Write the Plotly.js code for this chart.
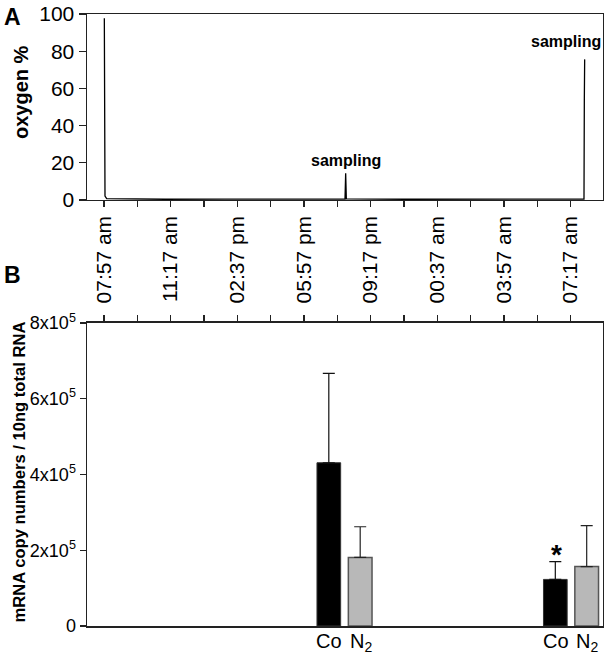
<!DOCTYPE html>
<html><head><meta charset="utf-8">
<script src="https://cdn.plot.ly/plotly-3.0.1.min.js"></script>
<style>html,body{margin:0;padding:0;background:#fff}#chart{width:604px;height:654px}</style>
</head><body><div id="chart"></div>
<script>
// ---- Panel A: oxygen trace ----
const oxyTime = [
  '2011-03-10 07:58','2011-03-10 07:59','2011-03-10 08:00','2011-03-10 08:05',
  '2011-03-10 09:00','2011-03-10 11:00','2011-03-10 14:00','2011-03-10 17:00',
  '2011-03-10 20:00','2011-03-10 20:02','2011-03-10 20:04','2011-03-10 23:00',
  '2011-03-11 02:00','2011-03-11 05:00','2011-03-11 07:57','2011-03-11 07:58','2011-03-11 07:59'
];
const oxyPct = [97.7, 60, 2.1, 0.7, 0.5, 0.4, 0.5, 0.4, 0.5, 14.3, 0.6, 0.4, 0.5, 0.4, 0.5, 54, 75.6];

// ---- time axis labels ----
const timeTickStart = '2011-03-10 07:57';
const timeTickLabels = ['07:57 am','11:17 am','02:37 pm','05:57 pm','09:17 pm','00:37 am','03:57 am','07:17 am'];
const timeRange = ['2011-03-10 07:06','2011-03-11 08:54'];

// ---- Panel B: mRNA copy numbers ----
const groupTimes = ['2011-03-10 19:58:30','2011-03-11 07:18'];
const coVals = [431000, 123000];
const coErr  = [236000, 47000];
const n2Vals = [181000, 157000];
const n2Err  = [81000, 108000];
const yBTicks = [0, 200000, 400000, 600000, 800000];
const yBTickText = ['0','2x10<sup>5</sup>','4x10<sup>5</sup>','6x10<sup>5</sup>','8x10<sup>5</sup>'];

// tick positions: labelled every 200 min, minor (unlabelled) ticks in between
const t0 = new Date(timeTickStart.replace(' ','T')+':00Z').getTime();
const fmt = ms => new Date(ms).toISOString().replace('T',' ').slice(0,19);
const tickVals = timeTickLabels.map((_, i) => fmt(t0 + i*200*60000));
const minorVals = timeTickLabels.slice(1).map((_, i) => fmt(t0 + (i*200+100)*60000));

const FONT = 'Liberation Sans, Arial, Helvetica, sans-serif';
const AX = '#222';

const traces = [
  {x: oxyTime, y: oxyPct, xaxis:'x', yaxis:'y', type:'scatter', mode:'lines',
   line:{color:'#000', width:1.3}, showlegend:false, hoverinfo:'skip'},
  {x: groupTimes, y: coVals, xaxis:'x2', yaxis:'y2', type:'bar', name:'Co',
   marker:{color:'#000', line:{color:'#333', width:1}},
   error_y:{type:'data', symmetric:false, array: coErr, arrayminus:[0,0], color:'#111', thickness:1.2, width:6},
   showlegend:false},
  {x: groupTimes, y: n2Vals, xaxis:'x2', yaxis:'y2', type:'bar', name:'N2',
   marker:{color:'#b8b8b8', line:{color:'#555', width:1.5}},
   error_y:{type:'data', symmetric:false, array: n2Err, arrayminus:[0,0], color:'#222', thickness:1.2, width:6},
   showlegend:false}
];

const annotations = [
  {text:'<b>A</b>', xref:'paper', yref:'paper', x:-0.165, y:1.02, xanchor:'left', yanchor:'top', showarrow:false, font:{family:FONT, size:23, color:'#000'}},
  {text:'<b>B</b>', xref:'paper', yref:'paper', x:-0.165, y:0.598, xanchor:'left', yanchor:'top', showarrow:false, font:{family:FONT, size:23, color:'#000'}},
  {text:'<b>oxygen %</b>', xref:'paper', yref:'paper', x:-0.1163, xshift:-6, y:0.8725, xanchor:'center', yanchor:'middle', textangle:-90, showarrow:false, font:{family:FONT, size:20, color:'#000'}},
  {text:'<b>mRNA copy numbers / 10ng total RNA</b>', xref:'paper', yref:'paper', x:-0.1163, xshift:-8, y:0.2525, xanchor:'center', yanchor:'middle', textangle:-90, showarrow:false, font:{family:FONT, size:16.6, color:'#000'}},
  {text:'<b>sampling</b>', xref:'x', yref:'y', x:'2011-03-10 20:02', y:21, xanchor:'center', yanchor:'middle', showarrow:false, font:{family:FONT, size:16, color:'#000'}},
  {text:'<b>sampling</b>', xref:'paper', yref:'y', x:1, y:85, xanchor:'right', yanchor:'middle', showarrow:false, font:{family:FONT, size:16, color:'#000'}},
  {text:'<b>*</b>', xref:'x2', yref:'y2', x:groupTimes[1], xshift:-15, y:coVals[1]+coErr[1], yanchor:'bottom', yshift:-10, showarrow:false, font:{family:FONT, size:28, color:'#000'}}
];
groupTimes.forEach(g => {
  annotations.push({text:'Co', xref:'x2', yref:'y2', x:g, xshift:-15.5, y:0, yanchor:'top', yshift:-2, showarrow:false, font:{family:FONT, size:20, color:'#000'}});
  annotations.push({text:'N<sub>2</sub>', xref:'x2', yref:'y2', x:g, xshift:16, y:0, yanchor:'top', yshift:-2, showarrow:false, font:{family:FONT, size:20, color:'#000'}});
});

const tickStyle = {ticks:'outside', ticklen:6, tickwidth:1.2, tickcolor:AX};

const layout = {
  width:604, height:654,
  margin:{l:87, r:1, t:14, b:28},
  paper_bgcolor:'#fff', plot_bgcolor:'#fff',
  font:{family:FONT, size:21, color:'#000'},
  barmode:'group', bargap:0.723, bargroupgap:0.245,
  xaxis:Object.assign({type:'date', range:timeRange, domain:[0,1], anchor:'y',
    tickmode:'array', tickvals:tickVals, ticktext:timeTickLabels, tickangle:-90,
    minor:Object.assign({tickmode:'array', tickvals:minorVals, showgrid:false}, tickStyle),
    showline:true, linecolor:AX, linewidth:1.5, mirror:true, showgrid:false, zeroline:false,
    tickfont:{family:FONT, size:21, color:'#000'}}, tickStyle),
  yaxis:Object.assign({domain:[0.6961,1], anchor:'x', range:[0,100], tickvals:[0,20,40,60,80,100],
    showline:true, linecolor:AX, linewidth:1.5, mirror:true, showgrid:false, zeroline:false,
    tickfont:{family:FONT, size:21, color:'#000'}}, tickStyle, {ticklen:7}),
  xaxis2:Object.assign({type:'date', range:timeRange, domain:[0,1], anchor:'y2', side:'top',
    tickmode:'array', tickvals:tickVals, showticklabels:false,
    minor:Object.assign({tickmode:'array', tickvals:minorVals, showgrid:false}, tickStyle),
    showline:true, linecolor:AX, linewidth:1.5, mirror:true, showgrid:false, zeroline:false}, tickStyle),
  yaxis2:Object.assign({domain:[0,0.4951], anchor:'x2', range:[0,800000],
    tickmode:'array', tickvals:yBTicks, ticktext:yBTickText,
    showline:true, linecolor:AX, linewidth:1.5, mirror:true, showgrid:false, zeroline:false,
    tickfont:{family:FONT, size:18, color:'#000'}}, tickStyle),
  annotations: annotations,
  showlegend:false
};

Plotly.newPlot('chart', traces, layout, {staticPlot:true, displayModeBar:false});
</script>
</body></html>
